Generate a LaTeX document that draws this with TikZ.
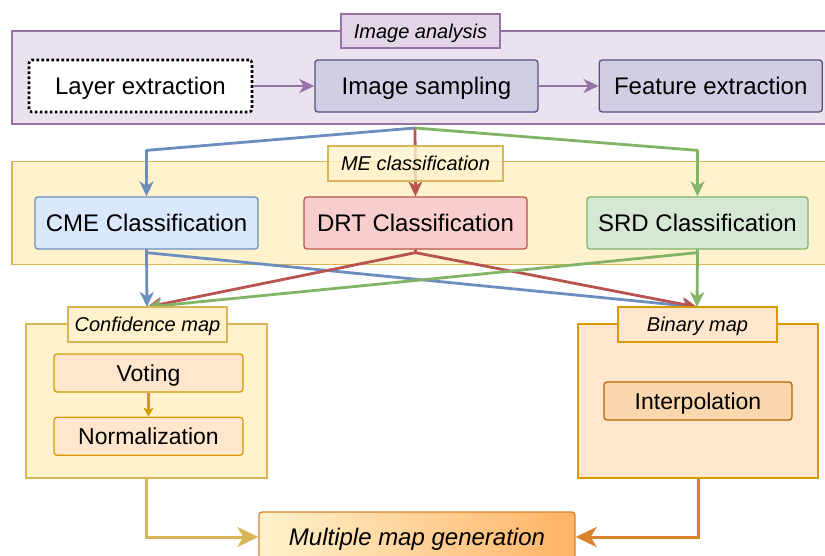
\documentclass[tikz,border=0pt]{standalone}
\usepackage{fontspec}
\setmainfont{Liberation Sans}
\usepackage{tikz}
\usetikzlibrary{calc}
\usetikzlibrary{arrows.meta}
\usetikzlibrary{positioning}
\usepackage{xcolor}

\definecolor{purplefill}{HTML}{E1D5E7}
\definecolor{purpleline}{HTML}{9673A6}
\definecolor{samplefill}{HTML}{D0CEE2}
\definecolor{sampleline}{HTML}{56517E}
\definecolor{yellowfill}{HTML}{FFF2CC}
\definecolor{yellowline}{HTML}{D6B656}
\definecolor{bluefill}{HTML}{DAE8FC}
\definecolor{blueline}{HTML}{6C8EBF}
\definecolor{redfill}{HTML}{F8CECC}
\definecolor{redline}{HTML}{B85450}
\definecolor{greenfill}{HTML}{D5E8D4}
\definecolor{greenline}{HTML}{82B366}
\definecolor{orangefill}{HTML}{FFE6CC}
\definecolor{orangeline}{HTML}{D79B00}
\definecolor{darkorangefill}{HTML}{FAD7AC}
\definecolor{darkorangeline}{HTML}{B46504}
\definecolor{mapline}{HTML}{D9822B}
\definecolor{mapright}{HTML}{FFB366}

\tikzset{
  procbox/.style={draw, rounded corners=3pt, line width=1.3pt, inner sep=0pt,
    minimum width=223pt, minimum height=52pt, text height=17pt, text depth=0pt,
    font=\fontsize{24}{28}\selectfont},
  subbox/.style={draw, rounded corners=3pt, line width=1.3pt, inner sep=0pt,
    minimum width=189pt, minimum height=38pt, text height=16.5pt, text depth=0pt,
    font=\fontsize{23}{27}\selectfont},
  groupbox/.style={draw, line width=1.3pt, inner sep=0pt},
  grouptag/.style={draw, line width=1.3pt, inner sep=0pt, minimum width=159pt,
    minimum height=35pt, text height=14.5pt, text depth=0pt,
    font=\fontsize{20}{24}\selectfont\itshape},
  flow/.style={line width=2.8pt, -{Stealth[length=15pt,width=14pt,inset=4.5pt]}},
  bigflow/.style={line width=3pt, -{Stealth[length=21pt,width=20pt,inset=6pt]}},
}

\begin{document}
\begin{tikzpicture}[x=1pt,y=-1pt]
\useasboundingbox (0,0) rectangle (825,556);

\node[groupbox, fill=purplefill!70, draw=purpleline, minimum width=814pt, minimum height=93pt] (analysis) at (419,77.5) {};
\node[procbox, fill=white, draw=black, line width=2.6pt, dash pattern=on 2.6pt off 2.4pt] (layer) at (140.5,86) {Layer extraction};
\node[procbox, fill=samplefill, draw=sampleline, right=61pt of layer] (sampling) {Image sampling};
\node[procbox, fill=samplefill, draw=sampleline, right=60pt of sampling] (feature) {Feature extraction};

\node[groupbox, fill=yellowfill, draw=yellowline, minimum width=814pt, minimum height=103pt] (meclass) at (419,213) {};
\node[procbox, fill=bluefill, draw=blueline] (cme) at (146.5,223) {CME Classification};
\node[procbox, fill=redfill, draw=redline] (drt) at (415.5,223) {DRT Classification};
\node[procbox, fill=greenfill, draw=greenline, minimum width=221pt] (srd) at (697.5,223) {SRD Classification};

\node[groupbox, fill=yellowfill, draw=yellowline, minimum width=241pt, minimum height=154pt] (confmap) at (146.5,401) {};
\node[subbox, fill=orangefill, draw=orangeline] (voting) at (148.5,373) {Voting};
\node[subbox, fill=orangefill, draw=orangeline, below=24pt of voting] (normal) {Normalization};

\node[groupbox, fill=orangefill, draw=orangeline, minimum width=240pt, minimum height=154pt] (binmap) at (698,401) {};
\node[subbox, fill=darkorangefill, draw=darkorangeline, minimum width=188pt] (interp) at (binmap.center) {Interpolation};

\node[draw=mapline, line width=1.3pt, rounded corners=3pt, left color=yellowfill, right color=mapright,
  minimum width=316pt, minimum height=50pt, text height=17pt, text depth=0pt,
  font=\fontsize{24}{28}\selectfont\itshape] (multi) at (417,537) {Multiple map generation};

\draw[flow, purpleline] (layer) -- (sampling);
\draw[flow, purpleline] (sampling) -- (feature);

\coordinate (fan) at (415,128);
\draw[flow, blueline, line join=round] (fan) -- ([yshift=46pt]cme.north) -- (cme.north);
\draw[flow, redline] (fan) -- (drt.north);
\draw[flow, greenline, line join=round] (fan) -- ([yshift=46pt]srd.north) -- (srd.north);

\draw[flow, blueline] (cme.south) -- (147,307);
\draw[flow, blueline, line join=round] (cme.south) -- ++(0,3) -- (697,307);
\draw[flow, redline, line join=round] (drt.south) -- ++(0,3) -- (147,307);
\draw[flow, redline, line join=round] (drt.south) -- ++(0,3) -- (697,307);
\draw[flow, greenline, line join=round] (srd.south) -- ++(0,3) -- (147,307);
\draw[flow, greenline] (srd.south) -- (697,307);

\draw[orangeline, line width=2.4pt, -{Stealth[length=9pt,width=10pt,inset=2.5pt]}] (voting) -- (normal);

\draw[bigflow, yellowline] (confmap.south) |- (multi.west);
\draw[bigflow, mapline] (binmap.south) |- (multi.east);

\node[grouptag, fill=purplefill, draw=purpleline, minimum height=34pt] (analysistag) at (420.5,31) {Image analysis};
\node[grouptag, fill=yellowfill, fill opacity=0.8, text opacity=1, draw=yellowline, minimum width=175pt] (metag) at (415.5,163.5) {ME classification};
\node[grouptag, fill=yellowfill, draw=yellowline] (conftag) at (147.5,324.5) {Confidence map};
\node[grouptag, fill=orangefill, draw=orangeline] (bintag) at (697.5,324.5) {Binary map};
\end{tikzpicture}
\end{document}
